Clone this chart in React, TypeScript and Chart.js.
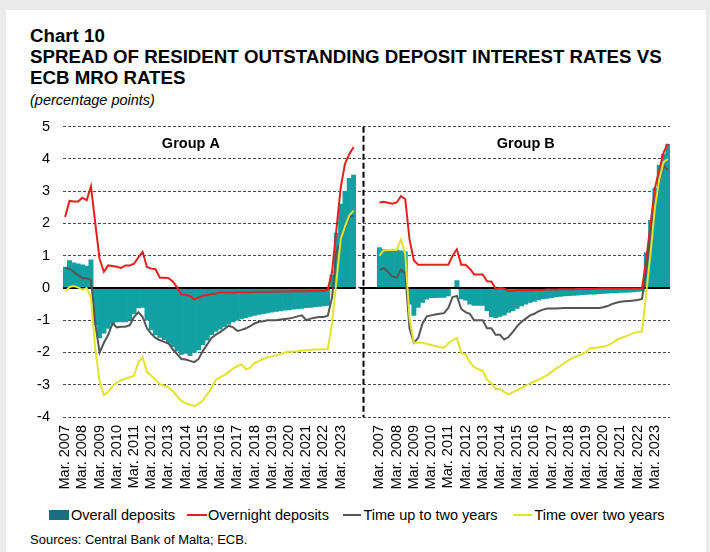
import React, { useEffect, useRef } from 'react';
import { Chart, registerables } from 'chart.js';

Chart.register(...registerables);

// ---------- data ----------
const YEARS = [2007, 2008, 2009, 2010, 2011, 2012, 2013, 2014, 2015, 2016, 2017, 2018, 2019, 2020, 2021, 2022, 2023];
const QUARTER_MONTHS = ['Mar.', 'Jun.', 'Sep.', 'Dec.'];
const GAP = 5;
const Y_MIN = -4;
const Y_MAX = 5;
const Y_STEP = 1;
const GROUP_TITLES = ['Group A', 'Group B'];
const SERIES_NAMES = ['Overall deposits', 'Overnight deposits', 'Time up to two years', 'Time over two years'];
const SOURCE_NOTE = 'Sources: Central Bank of Malta; ECB.';

// Group A (quarterly, Mar. 2007 - Dec. 2023)
const overallA = [
  0.65, 0.85, 0.78, 0.75, 0.72, 0.68, 0.87, -1.15,
  -1.55, -1.4, -1.25, -1.1, -1.05, -1.05, -1.05, -1.0,
  -0.8, -0.62, -0.6, -1.0, -1.3, -1.45, -1.53, -1.6,
  -1.7, -1.82, -1.96, -2.06, -2.03, -2.1, -2.0, -1.92,
  -1.76, -1.62, -1.45, -1.35, -1.28, -1.2, -1.12, -1.05,
  -1.0, -0.95, -0.92, -0.88, -0.85, -0.82, -0.8, -0.77,
  -0.75, -0.73, -0.71, -0.69, -0.68, -0.66, -0.64, -0.63,
  -0.61, -0.6, -0.59, -0.57, -0.56, -0.54, 0.4, 1.7,
  2.6, 3.0, 3.4, 3.5,
];
const overnightA = [
  2.2, 2.7, 2.68, 2.68, 2.8, 2.72, 3.15, 2.0,
  0.9, 0.5, 0.7, 0.68, 0.66, 0.62, 0.7, 0.7,
  0.75, 0.95, 1.12, 0.65, 0.6, 0.58, 0.32, 0.32,
  0.3, 0.2, 0.02, -0.2, -0.22, -0.25, -0.35, -0.3,
  -0.24, -0.22, -0.19, -0.17, -0.14, -0.14, -0.14, -0.14,
  -0.13, -0.13, -0.13, -0.13, -0.12, -0.12, -0.12, -0.12,
  -0.12, -0.11, -0.11, -0.11, -0.11, -0.1, -0.1, -0.1,
  -0.1, -0.09, -0.09, -0.09, -0.09, -0.05, 0.5, 1.8,
  3.1, 3.85, 4.15, 4.37,
];
const upToTwoA = [
  0.62, 0.6, 0.5, 0.4, 0.3, 0.3, 0.25, -1.1,
  -2.0, -1.7, -1.45, -1.1, -1.22, -1.2, -1.2, -1.15,
  -0.9, -0.75, -0.9, -1.25, -1.42, -1.55, -1.62, -1.67,
  -1.72, -1.9, -2.05, -2.2, -2.22, -2.26, -2.3, -2.2,
  -1.95, -1.75, -1.55, -1.45, -1.37, -1.27, -1.17, -1.22,
  -1.33, -1.3, -1.25, -1.18, -1.1, -1.05, -1.03, -1.0,
  -1.0, -1.0, -0.98, -0.96, -0.95, -0.92, -0.88, -0.85,
  -1.0, -0.95, -0.92, -0.9, -0.9, -0.86, -0.3, 1.1,
  1.45, 1.88, 2.2, 2.25,
];
const overTwoA = [
  -0.1, 0.03, 0.06, 0.02, -0.05, 0.0, -0.3, -1.9,
  -2.9, -3.32, -3.22, -3.05, -2.93, -2.86, -2.81, -2.77,
  -2.72, -2.3, -2.15, -2.6, -2.72, -2.85, -2.98, -3.03,
  -3.08, -3.2, -3.35, -3.5, -3.58, -3.62, -3.66, -3.6,
  -3.48, -3.3, -3.1, -2.85, -2.76, -2.7, -2.6, -2.5,
  -2.42, -2.37, -2.52, -2.47, -2.32, -2.27, -2.2, -2.15,
  -2.12, -2.09, -2.05, -2.0, -1.98, -1.97, -1.96, -1.94,
  -1.93, -1.92, -1.91, -1.91, -1.9, -1.9, -1.1, 0.2,
  1.5, 1.9, 2.25, 2.4,
];

// Group B (quarterly, Mar. 2007 - Dec. 2023)
const overallB = [
  1.25, 1.2, 1.18, 1.18, 1.18, 1.15, 1.12, -0.5,
  -0.85, -0.6, -0.45, -0.35, -0.3, -0.3, -0.29, -0.29,
  -0.25, 0.0, 0.23, -0.34, -0.38, -0.5, -0.54, -0.54,
  -0.54, -0.7, -0.9, -0.92, -0.88, -0.84, -0.76, -0.7,
  -0.63, -0.56, -0.5, -0.45, -0.42, -0.37, -0.34, -0.32,
  -0.3, -0.28, -0.26, -0.25, -0.24, -0.23, -0.22, -0.21,
  -0.2, -0.19, -0.19, -0.18, -0.17, -0.16, -0.15, -0.15,
  -0.14, -0.14, -0.13, -0.12, -0.11, -0.1, 1.1, 2.1,
  3.1, 3.8, 4.15, 4.45,
];
const overnightB = [
  2.65, 2.67, 2.64, 2.61, 2.65, 2.85, 2.76, 1.5,
  0.85, 0.72, 0.72, 0.72, 0.72, 0.72, 0.72, 0.72,
  0.72, 1.0, 1.2, 0.72, 0.72, 0.6, 0.42, 0.42,
  0.42, 0.21, 0.2, -0.03, 0.0, -0.02, -0.09, -0.09,
  -0.08, -0.08, -0.07, -0.07, -0.06, -0.06, -0.06, -0.05,
  -0.05, -0.05, -0.04, -0.04, -0.04, -0.04, -0.03, -0.03,
  -0.03, -0.03, -0.03, -0.02, -0.02, -0.02, -0.02, -0.02,
  -0.02, -0.02, -0.02, -0.02, -0.02, -0.02, 0.9, 2.0,
  3.1, 3.65, 4.2, 4.47,
];
const upToTwoB = [
  0.55, 0.62, 0.5, 0.35, 0.32, 0.57, 0.45, -1.26,
  -1.7, -1.55, -1.1, -0.88, -0.85, -0.82, -0.8, -0.78,
  -0.62, -0.28, -0.25, -0.65, -0.75, -0.8, -1.0, -1.0,
  -1.0, -1.25, -1.25, -1.45, -1.45, -1.6, -1.52, -1.36,
  -1.18, -1.05, -0.95, -0.85, -0.8, -0.72, -0.67, -0.64,
  -0.64, -0.64, -0.63, -0.62, -0.62, -0.62, -0.62, -0.62,
  -0.62, -0.62, -0.62, -0.62, -0.6, -0.56, -0.5, -0.46,
  -0.43, -0.41, -0.4, -0.39, -0.37, -0.34, 0.55, 1.7,
  2.6, 3.3, 3.8, 3.65,
];
const overTwoB = [
  1.0, 1.17, 1.18, 1.18, 1.18, 1.5, 1.05, -0.95,
  -1.7, -1.7, -1.7, -1.73, -1.77, -1.8, -1.83, -1.86,
  -1.72, -1.62, -1.55, -2.02, -2.05, -2.3, -2.45, -2.52,
  -2.57, -2.85, -2.95, -3.13, -3.13, -3.22, -3.3, -3.23,
  -3.17, -3.1, -3.03, -2.96, -2.9, -2.84, -2.77, -2.7,
  -2.6, -2.5, -2.42, -2.32, -2.24, -2.16, -2.11, -2.06,
  -1.99, -1.86, -1.86, -1.84, -1.82, -1.78, -1.72, -1.62,
  -1.56, -1.51, -1.46, -1.4, -1.36, -1.35, -0.14, 1.1,
  2.5, 3.35, 3.9, 4.0,
];

// ---------- derived ----------
const quarterLabels = YEARS.flatMap((y) => QUARTER_MONTHS.map((m) => `${m} ${y}`));
const gapLabels = Array(GAP).fill('');
const labels = [...quarterLabels, ...gapLabels, ...quarterLabels];
const join = (a: number[], b: number[]) => [...a, ...Array(GAP).fill(null), ...b];

const FONT = '"Liberation Sans", Arial, Helvetica, sans-serif';
const COLORS = {
  bars: '#12a0a3',
  barsLegend: '#1c6e87',
  overnight: '#e5201d',
  upTo: '#555555',
  over: '#e3e32e',
};

const nA = quarterLabels.length;

const overlayPlugin = {
  id: 'overlay',
  afterDatasetDraw(chart: any, args: any) {
    if (args.index !== 0) return;
    const { ctx, chartArea } = chart;
    const x = chart.scales.x;
    const y = chart.scales.y;
    const y0 = y.getPixelForValue(0);
    ctx.save();
    ctx.strokeStyle = '#000';
    ctx.lineWidth = 2;
    ctx.beginPath();
    ctx.moveTo(chartArea.left, y0);
    ctx.lineTo(x.getPixelForValue(nA - 0.5), y0);
    ctx.moveTo(x.getPixelForValue(nA + 0.4), y0);
    ctx.lineTo(chartArea.right, y0);
    ctx.stroke();
    ctx.restore();
  },
  afterDraw(chart: any) {
    const { ctx, chartArea } = chart;
    const x = chart.scales.x;
    const y = chart.scales.y;
    // dashed separator between the two groups
    const sx = Math.round(x.getPixelForValue(nA + 1.3)) + 0.5;
    ctx.save();
    ctx.strokeStyle = '#000';
    ctx.lineWidth = 2;
    ctx.setLineDash([6, 3]);
    ctx.beginPath();
    ctx.moveTo(sx, chartArea.top);
    ctx.lineTo(sx, chartArea.bottom);
    ctx.stroke();
    ctx.restore();
    // group titles
    ctx.save();
    ctx.fillStyle = '#000';
    ctx.font = `bold 14.5px ${FONT}`;
    ctx.textAlign = 'center';
    ctx.textBaseline = 'middle';
    const ty = y.getPixelForValue(4.45);
    ctx.fillText(GROUP_TITLES[0], x.getPixelForValue(29.2), ty);
    ctx.fillText(GROUP_TITLES[1], x.getPixelForValue(nA + GAP + 34), ty);
    ctx.restore();
  },
};

export default function App() {
  const ref = useRef<HTMLCanvasElement>(null);

  useEffect(() => {
    const canvas = ref.current;
    if (!canvas) return;
    const chart = new Chart(canvas, {
      type: 'bar',
      data: {
        labels,
        datasets: [
          {
            type: 'bar',
            label: SERIES_NAMES[0],
            data: join(overallA, overallB),
            backgroundColor: COLORS.bars,
            borderWidth: 0,
            barPercentage: 1,
            categoryPercentage: 1,
            order: 10,
          } as any,
          {
            type: 'line',
            label: SERIES_NAMES[1],
            data: join(overnightA, overnightB),
            borderColor: COLORS.overnight,
            borderWidth: 2,
            pointRadius: 0,
            tension: 0,
            spanGaps: false,
            order: 3,
          },
          {
            type: 'line',
            label: SERIES_NAMES[2],
            data: join(upToTwoA, upToTwoB),
            borderColor: COLORS.upTo,
            borderWidth: 2,
            pointRadius: 0,
            tension: 0,
            spanGaps: false,
            order: 2,
          },
          {
            type: 'line',
            label: SERIES_NAMES[3],
            data: join(overTwoA, overTwoB),
            borderColor: COLORS.over,
            borderWidth: 2,
            pointRadius: 0,
            tension: 0,
            spanGaps: false,
            order: 1,
          },
        ],
      },
      options: {
        animation: false,
        responsive: false,
        maintainAspectRatio: false,
        events: [],
        layout: { padding: { left: 24, right: 36, top: 16, bottom: 0 } },
        plugins: {
          legend: { display: false },
          title: { display: false },
          tooltip: { enabled: false },
        },
        scales: {
          x: {
            type: 'category',
            offset: true,
            grid: { display: false, drawTicks: false },
            border: { display: false },
            ticks: {
              autoSkip: false,
              minRotation: 90,
              maxRotation: 90,
              padding: 8,
              color: '#000',
              font: { family: FONT, size: 14.5 },
              callback: (_v: any, i: number) => {
                const l = labels[i];
                return l && l.startsWith('Mar.') ? l : null;
              },
            },
            afterFit: (scale: any) => {
              scale.height = 88;
            },
          },
          y: {
            min: Y_MIN,
            max: Y_MAX,
            ticks: {
              stepSize: Y_STEP,
              padding: 13,
              color: '#000',
              font: { family: FONT, size: 14.5 },
            },
            grid: { color: '#4a4a4a', lineWidth: 1, drawTicks: false },
            border: { display: false, dash: [3, 2] },
            afterFit: (scale: any) => {
              scale.width = 33;
            },
          },
        },
      } as any,
      plugins: [overlayPlugin],
    });
    return () => chart.destroy();
  }, []);

  const titleStyle: React.CSSProperties = {
    position: 'absolute',
    left: 24,
    fontSize: 18.7,
    fontWeight: 'bold',
    lineHeight: '22px',
    whiteSpace: 'nowrap',
  };
  const legendText: React.CSSProperties = {
    position: 'absolute',
    top: 495.5,
    fontSize: 14.5,
    lineHeight: '18px',
    whiteSpace: 'nowrap',
  };

  return (
    <div
      style={{
        position: 'absolute',
        left: 0,
        top: 0,
        width: 710,
        height: 552,
        background: '#ebebeb',
        overflow: 'hidden',
        fontFamily: FONT,
        color: '#000',
      }}
    >
      <div style={{ position: 'absolute', left: 6, top: 10, width: 700, height: 542, background: '#fff' }}>
        <div style={{ ...titleStyle, top: 15 }}>Chart 10</div>
        <div style={{ ...titleStyle, top: 36 }}>SPREAD OF RESIDENT OUTSTANDING DEPOSIT INTEREST RATES VS</div>
        <div style={{ ...titleStyle, top: 57 }}>ECB MRO RATES</div>
        <div
          style={{
            position: 'absolute',
            left: 24,
            top: 80.5,
            fontSize: 14.5,
            fontStyle: 'italic',
            lineHeight: '18px',
            whiteSpace: 'nowrap',
          }}
        >
          (percentage points)
        </div>
        <div style={{ position: 'absolute', left: 0, top: 95, width: 700, height: 400 }}>
          <canvas ref={ref} width={700} height={400} style={{ display: 'block', width: 700, height: 400 }} />
        </div>
        {/* legend */}
        <div style={{ position: 'absolute', left: 43, top: 500, width: 20, height: 10, background: COLORS.barsLegend }} />
        <div style={{ ...legendText, left: 65 }}>{SERIES_NAMES[0]}</div>
        <div style={{ position: 'absolute', left: 181, top: 504, width: 20, height: 2, background: COLORS.overnight }} />
        <div style={{ ...legendText, left: 202 }}>{SERIES_NAMES[1]}</div>
        <div style={{ position: 'absolute', left: 337, top: 504, width: 18, height: 2, background: COLORS.upTo }} />
        <div style={{ ...legendText, left: 357.5 }}>{SERIES_NAMES[2]}</div>
        <div style={{ position: 'absolute', left: 507, top: 504, width: 19, height: 2, background: COLORS.over }} />
        <div style={{ ...legendText, left: 528.5 }}>{SERIES_NAMES[3]}</div>
        <div
          style={{
            position: 'absolute',
            left: 24,
            top: 521.5,
            fontSize: 13,
            lineHeight: '16px',
            whiteSpace: 'nowrap',
          }}
        >
          {SOURCE_NOTE}
        </div>
      </div>
    </div>
  );
}
